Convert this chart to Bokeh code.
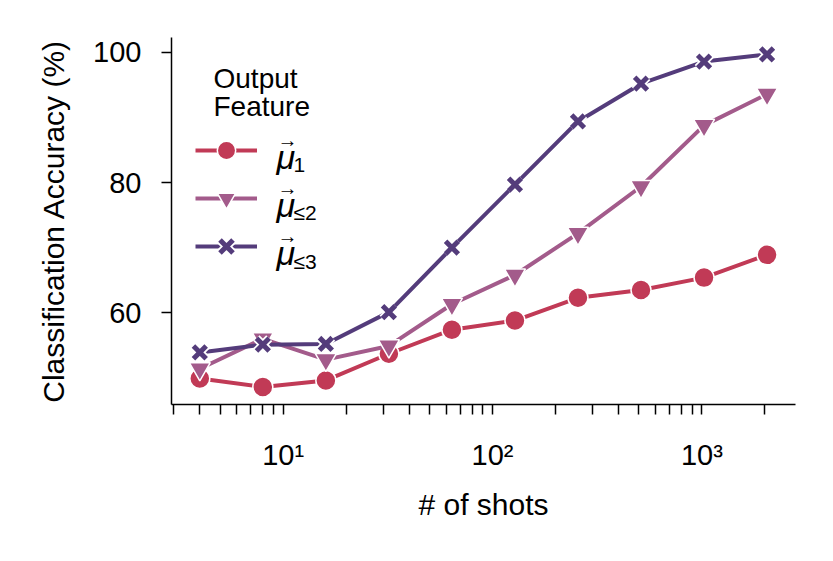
from bokeh.plotting import figure
from bokeh.models import FixedTicker, CustomJSTickFormatter, Label, Legend, LegendItem, Range1d
from bokeh.embed import file_html
from bokeh.resources import INLINE

# ---- data ----
shots = [4, 8, 16, 32, 64, 128, 256, 512, 1024, 2048]
acc_mu1 = [49.9, 48.6, 49.6, 53.7, 57.4, 58.8, 62.3, 63.5, 65.4, 68.9]
acc_mu2 = [51.4, 56.0, 52.8, 54.9, 61.3, 65.8, 72.2, 79.4, 88.8, 93.6]
acc_mu3 = [53.9, 55.1, 55.2, 60.1, 70.0, 79.7, 89.4, 95.2, 98.6, 99.7]

x_major = [10, 100, 1000]
x_major_labels = ["10\u00b9", "10\u00b2", "10\u00b3"]
x_minor = [3, 4, 5, 6, 7, 8, 9, 20, 30, 40, 50, 60, 70, 80, 90,
           200, 300, 400, 500, 600, 700, 800, 900, 2000]
y_ticks = [60, 80, 100]

legend_title = ["Output", "Feature"]
legend_subs = ["1", "\u22642", "\u22643"]

C1 = "#c13a56"
C2 = "#a35b8b"
C3 = "#543c7b"
FONT = "Liberation Sans"

# frame placement (page px)
FL, FR, FT, FB = 171, 795, 37, 404
W, H = 815, 543

p = figure(width=W, height=H, x_axis_type="log",
           x_range=Range1d(2.93, 2800), y_range=Range1d(45.9, 102.3),
           output_backend="svg", toolbar_location=None,
           min_border_left=FL, min_border_right=W - FR,
           min_border_top=FT, min_border_bottom=H - FB)
p.outline_line_color = None
p.xgrid.visible = False
p.ygrid.visible = False
p.background_fill_color = "white"
p.border_fill_color = "white"

p.xaxis.ticker = FixedTicker(ticks=x_major, minor_ticks=x_minor)
p.xaxis.formatter = CustomJSTickFormatter(
    args=dict(major_vals=x_major, major_labels=x_major_labels),
    code="const i = major_vals.indexOf(tick); return i >= 0 ? major_labels[i] : '';")
p.yaxis.ticker = FixedTicker(ticks=y_ticks, minor_ticks=[])

for ax in (p.xaxis[0], p.yaxis[0]):
    ax.axis_line_width = 1.5
    ax.axis_line_color = "black"
    ax.major_tick_line_width = 1.5
    ax.minor_tick_line_width = 1.5
    ax.major_tick_in = 0
    ax.major_tick_out = 10
    ax.minor_tick_in = 0
    ax.minor_tick_out = 10
    ax.major_label_text_font = FONT
    ax.major_label_text_font_size = "29px"
    ax.major_label_text_color = "black"
    ax.axis_label_text_font = FONT
    ax.axis_label_text_font_size = "30px"
    ax.axis_label_text_font_style = "normal"
    ax.axis_label_text_color = "black"

p.yaxis.minor_tick_out = 0
p.xaxis.major_label_standoff = 24
p.yaxis.major_label_standoff = 20
p.xaxis.axis_label = "# of shots"
p.yaxis.axis_label = "Classification Accuracy (%)"
p.xaxis.axis_label_standoff = 14
p.yaxis.axis_label_standoff = 20

# ---- series ----
l1 = p.line(shots, acc_mu1, line_color=C1, line_width=4)
m1 = p.scatter(shots, acc_mu1, marker="circle", size=20, fill_color=C1,
               line_color="white", line_width=1.5)
l2 = p.line(shots, acc_mu2, line_color=C2, line_width=4)
m2 = p.scatter(shots, acc_mu2, marker="inverted_triangle", size=21, fill_color=C2,
               line_color="white", line_width=1.5)
l3 = p.line(shots, acc_mu3, line_color=C3, line_width=4)
m3w = p.scatter(shots, acc_mu3, marker="x", size=18, line_color="white", line_width=8.5)
m3 = p.scatter(shots, acc_mu3, marker="x", size=18, line_color=C3, line_width=5)

legend = Legend(items=[LegendItem(label=" ", renderers=[l1, m1]),
                       LegendItem(label=" ", renderers=[l2, m2]),
                       LegendItem(label=" ", renderers=[l3, m3w, m3])],
                location=(195 - FL, FB - 269), glyph_width=62, glyph_height=46,
                spacing=2, padding=0, margin=0, label_standoff=0,
                label_text_font_size="1px", background_fill_alpha=0,
                border_line_alpha=0)
p.add_layout(legend)

# legend title
for i, t in enumerate(legend_title):
    p.add_layout(Label(x=213 - FL, y=FB - (78 + 28 * i), x_units="screen", y_units="screen",
                       text=t, text_font=FONT, text_font_size="28px",
                       text_align="left", text_baseline="alphabetic", text_color="black"))

# legend math labels
row_centers = [150, 198.3, 246.7]
for yc, sub in zip(row_centers, legend_subs):
    p.add_layout(Label(x=276 - FL, y=FB - (yc + 6), x_units="screen", y_units="screen",
                       text="\u03bc", text_font=FONT, text_font_size="34px",
                       text_font_style="italic", text_align="left",
                       text_baseline="alphabetic", text_color="black"))
    p.add_layout(Label(x=287 - FL, y=FB - (yc - 11), x_units="screen", y_units="screen",
                       text="\u2192", text_font=FONT, text_font_size="20px",
                       text_align="center", text_baseline="middle", text_color="black"))
    p.add_layout(Label(x=293 - FL, y=FB - (yc + 14), x_units="screen", y_units="screen",
                       text=sub, text_font=FONT, text_font_size="21px",
                       text_align="left", text_baseline="alphabetic", text_color="black"))

open("out.html", "w").write(file_html(p, INLINE))
